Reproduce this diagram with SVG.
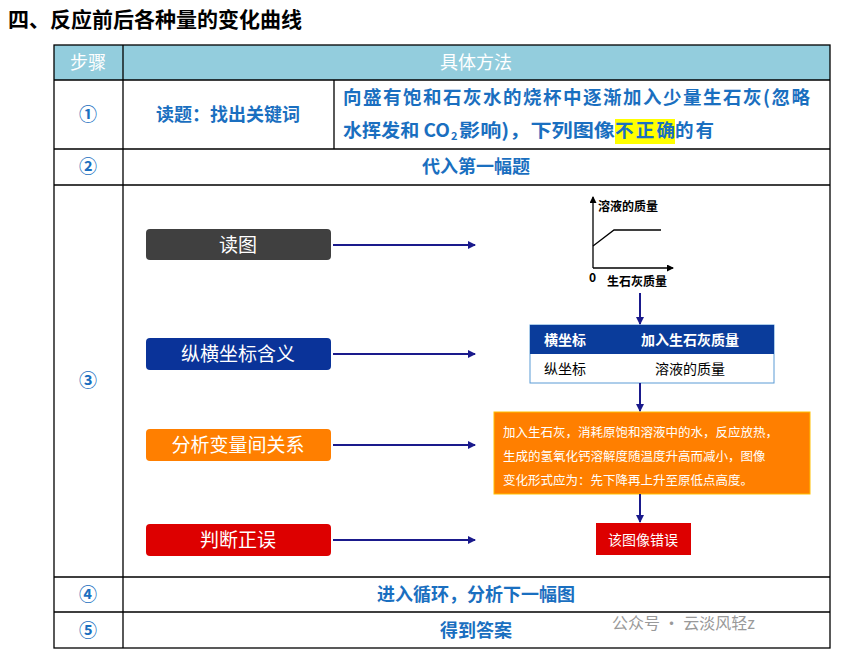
<svg xmlns="http://www.w3.org/2000/svg" width="844" height="655" viewBox="0 0 844 655">
<style>
text{font-family:"Noto Sans CJK SC","Liberation Sans",sans-serif}
.b{fill:#1a6fc0;font-size:18px;font-weight:bold;text-anchor:middle}
.l{fill:#1a6fc0;font-size:18.5px;font-weight:bold}
.g{fill:none;stroke:#000;stroke-width:1.3}
.bx{font-size:19px;fill:#fff;text-anchor:middle}
.c{stroke:#1a1a8c;stroke-width:2;fill:none;marker-end:url(#a)}
</style>
<defs><marker id="a" markerWidth="8" markerHeight="8" refX="7" refY="4" orient="auto" markerUnits="userSpaceOnUse"><path d="M0,0L8,4L0,8z" fill="#1a1a8c"/></marker>
<marker id="k" markerWidth="7" markerHeight="7" refX="6" refY="3.5" orient="auto" markerUnits="userSpaceOnUse"><path d="M0,0L7,3.5L0,7z" fill="#000"/></marker></defs>
<rect width="844" height="655" fill="#fff"/>
<text x="8" y="27" font-size="21" font-weight="bold" font-family="Noto Sans CJK SC, serif">四、反应前后各种量的变化曲线</text>
<g id="table">
<rect x="54" y="45" width="776" height="35" fill="#93CDDD"/>
<g class="g"><rect x="54" y="45" width="776" height="603"/>
<path d="M54 80H830M54 149H830M54 185H830M54 577H830M54 612H830M123 45V648M334 80V149"/></g>
<text x="88" y="69" fill="#fff" font-size="18" text-anchor="middle">步骤</text>
<text x="476" y="69" fill="#fff" font-size="18" text-anchor="middle">具体方法</text>
<text x="88" y="121" class="b">①</text>
<text x="228" y="121" class="b">读题：找出关键词</text>
<rect x="615" y="119" width="60" height="25" fill="#ffff00"/>
<text x="343" y="104" class="l" textLength="467" lengthAdjust="spacing">向盛有饱和石灰水的烧杯中逐渐加入少量生石灰(忽略</text>
<text x="343" y="137" class="l" textLength="107" lengthAdjust="spacingAndGlyphs">水挥发和 CO</text>
<text x="451" y="140" class="l" style="font-size:11px">2</text>
<text x="459" y="137" class="l" textLength="156" lengthAdjust="spacingAndGlyphs">影响)，下列图像</text>
<text x="615" y="137" class="l" textLength="60" lengthAdjust="spacing">不正确</text>
<text x="675" y="137" class="l" textLength="39" lengthAdjust="spacing">的有</text>
<text x="88" y="173" class="b">②</text>
<text x="476" y="173" class="b">代入第一幅题</text>
<text x="88" y="387" class="b">③</text>
<text x="88" y="601" class="b">④</text>
<text x="476" y="601" class="b">进入循环，分析下一幅图</text>
<text x="88" y="637" class="b">⑤</text>
<text x="476" y="637" class="b">得到答案</text>
</g>
<g id="n1"><rect x="146" y="229" width="185" height="31" rx="4" fill="#404040"/><text x="238" y="252" class="bx">读图</text></g>
<g id="n2"><rect x="146" y="338" width="185" height="32" rx="4" fill="#0A3399"/><text x="238" y="361" class="bx">纵横坐标含义</text></g>
<g id="n3"><rect x="146" y="429" width="185" height="32" rx="4" fill="#FF7F00"/><text x="238" y="452" class="bx">分析变量间关系</text></g>
<g id="n4"><rect x="146" y="524" width="185" height="32" rx="4" fill="#DD0000"/><text x="238" y="547" class="bx">判断正误</text></g>
<g id="graph">
<path d="M593 268V197" class="g" marker-end="url(#k)"/><path d="M593 268H673" class="g" marker-end="url(#k)"/>
<path d="M593 246L614 230H661" class="g"/>
<text x="598" y="211" font-size="12" font-weight="bold">溶液的质量</text>
<text x="589" y="282" font-size="12" font-weight="bold" font-family="Liberation Serif,serif">0</text>
<text x="607" y="286" font-size="12" font-weight="bold">生石灰质量</text>
</g>
<g id="axes"><rect x="530" y="325" width="244" height="58" fill="#fff" stroke="#5b9bd5"/><rect x="530" y="325" width="244" height="29" fill="#0A3C9B"/>
<text x="544" y="345" font-size="14" font-weight="bold" fill="#fff">横坐标</text><text x="690" y="345" font-size="14" font-weight="bold" fill="#fff" text-anchor="middle">加入生石灰质量</text>
<text x="544" y="374" font-size="14">纵坐标</text><text x="690" y="374" font-size="14" text-anchor="middle">溶液的质量</text></g>
<g id="analysis"><rect x="494" y="412" width="316" height="82" fill="#FF7F00" stroke="#FFC000"/>
<g font-size="12.5" fill="#fff"><text x="503" y="437">加入生石灰，消耗原饱和溶液中的水，反应放热，</text><text x="503" y="461">生成的氢氧化钙溶解度随温度升高而减小，图像</text><text x="503" y="485">变化形式应为：先下降再上升至原低点高度。</text></g></g>
<g id="result"><rect x="596" y="523" width="95" height="32" fill="#DD0000"/><text x="643" y="545" font-size="14" fill="#fff" text-anchor="middle">该图像错误</text></g>
<g id="connectors">
<path class="c" d="M333 245H475"/><path class="c" d="M333 354H475"/><path class="c" d="M333 445H475"/><path class="c" d="M333 540H475"/>
<path class="c" d="M640 293V324"/><path class="c" d="M640 383V411"/><path class="c" d="M640 494V522"/>
</g>
<text x="612" y="629" font-size="16" fill="#999">公众号 · 云淡风轻z</text>
</svg>
